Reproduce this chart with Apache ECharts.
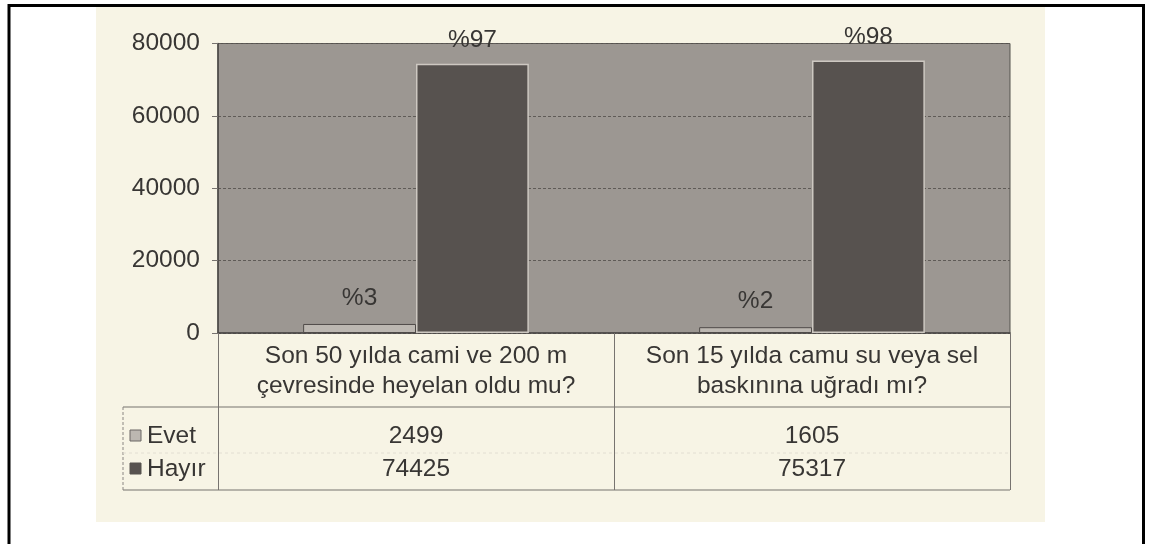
<!DOCTYPE html>
<html>
<head>
<meta charset="utf-8">
<script src="https://cdn.jsdelivr.net/npm/echarts@6/dist/echarts.min.js"></script>
<style>
html,body{margin:0;padding:0;background:#fff;}
#c{width:1154px;height:544px;}
</style>
</head>
<body>
<div id="c"></div>
<script>
const categories = ['Son 50 yılda cami ve 200 m\nçevresinde heyelan oldu mu?', 'Son 15 yılda camu su veya sel\nbaskınına uğradı mı?'];
const seriesNames = ['Evet', 'Hayır'];
const evet = [2499, 1605];
const hayir = [74425, 75317];
const yTicks = [0, 20000, 40000, 60000, 80000];

const FONT = '"Liberation Sans", Arial, sans-serif';
const FS = 24.5;
const TXT = '#383634';
const colors = { Evet: '#bcb7b1', 'Hayır': '#57524f' };

function pct(arr, i) {
  const total = evet[i] + hayir[i];
  return '%' + Math.round(arr[i] / total * 100);
}

const chart = echarts.init(document.getElementById('c'), null, { renderer: 'canvas' });

chart.setOption({
  backgroundColor: '#ffffff',
  animation: false,
  grid: {
    left: 218, right: 144, top: 43.5, bottom: 211,
    show: true, backgroundColor: '#9c9792', borderColor: '#55524f', borderWidth: 1
  },
  xAxis: {
    type: 'category',
    data: categories,
    axisLine: { show: true, lineStyle: { color: '#4a4745', width: 1.5 } },
    axisTick: { show: true, interval: 0, length: 157, lineStyle: { color: '#77736f', width: 1 } },
    axisLabel: { interval: 0, margin: 8, fontFamily: FONT, fontSize: FS, lineHeight: 30, color: TXT, align: 'center' },
    splitLine: { show: false }
  },
  yAxis: {
    type: 'value',
    min: yTicks[0], max: yTicks[yTicks.length - 1], interval: yTicks[1] - yTicks[0],
    axisLine: { show: true, lineStyle: { color: '#4a4745', width: 1.5 } },
    axisTick: { show: true, length: 6, lineStyle: { color: '#77736f' } },
    axisLabel: { margin: 18, fontFamily: FONT, fontSize: FS, color: TXT, formatter: v => String(v) },
    splitLine: { show: true, lineStyle: { color: '#5f5b57', type: [3, 2], width: 1 } }
  },
  series: [
    {
      name: seriesNames[0], type: 'bar', data: evet, barGap: '0%', barCategoryGap: '43%',
      itemStyle: { color: colors.Evet, borderColor: '#4f4b49', borderWidth: 1 },
      label: { show: true, position: 'top', distance: 13, fontFamily: FONT, fontSize: FS, color: TXT,
        formatter: p => pct(evet, p.dataIndex) }
    },
    {
      name: seriesNames[1], type: 'bar', data: hayir, barGap: '0%', barCategoryGap: '43%',
      itemStyle: { color: colors['Hayır'], borderColor: '#cdc8c1', borderWidth: 1.5 },
      label: { show: true, position: 'top', distance: 11, fontFamily: FONT, fontSize: FS, color: TXT,
        formatter: p => pct(hayir, p.dataIndex) }
    }
  ]
});

// Data table below the chart, positioned from the axis scale
const x0 = chart.convertToPixel({ xAxisIndex: 0 }, 0);
const x1 = chart.convertToPixel({ xAxisIndex: 0 }, 1);
const half = (x1 - x0) / 2;
const plotRight = x1 + half;
const tableLeft = 123, tableTop = 407, tableBottom = 490, rowMid = 453;
const rowY = [436, 469];
const rows = [evet, hayir];

const graphics = [
  { type: 'rect', z: -20, shape: { x: 96, y: 7, width: 949, height: 515 }, style: { fill: '#f7f4e5' }, silent: true },
  { type: 'rect', z: 100, shape: { x: 9, y: 5.5, width: 1134.5, height: 600 }, style: { fill: null, stroke: '#000', lineWidth: 3 }, silent: true },
  { type: 'line', z: 5, shape: { x1: tableLeft, y1: tableTop, x2: plotRight, y2: tableTop }, style: { stroke: '#77736f', lineWidth: 1.2 } },
  { type: 'line', z: 5, shape: { x1: tableLeft, y1: tableBottom, x2: plotRight, y2: tableBottom }, style: { stroke: '#77736f', lineWidth: 1.2 } },
  { type: 'line', z: 5, shape: { x1: tableLeft, y1: tableTop, x2: tableLeft, y2: tableBottom }, style: { stroke: '#8a8682', lineWidth: 1, lineDash: [3, 2] } },
  { type: 'line', z: 5, shape: { x1: tableLeft, y1: rowMid, x2: plotRight, y2: rowMid }, style: { stroke: '#e2ded2', lineWidth: 1, lineDash: [3, 3] } }
];
seriesNames.forEach((name, r) => {
  graphics.push({ type: 'rect', z: 6, shape: { x: 130, y: rowY[r] - 6, width: 11, height: 11 },
    style: { fill: colors[name], stroke: r === 0 ? '#6b6764' : colors[name], lineWidth: 1 } });
  graphics.push({ type: 'text', z: 6, style: { x: 147, y: rowY[r], text: name, font: FS + 'px ' + FONT, fill: TXT, textVerticalAlign: 'middle', textAlign: 'left' } });
  rows[r].forEach((v, i) => {
    const cx = chart.convertToPixel({ xAxisIndex: 0 }, i);
    graphics.push({ type: 'text', z: 6, style: { x: cx, y: rowY[r], text: String(v), font: FS + 'px ' + FONT, fill: TXT, textVerticalAlign: 'middle', textAlign: 'center' } });
  });
});
chart.setOption({ graphic: { elements: graphics } });
</script>
</body>
</html>
